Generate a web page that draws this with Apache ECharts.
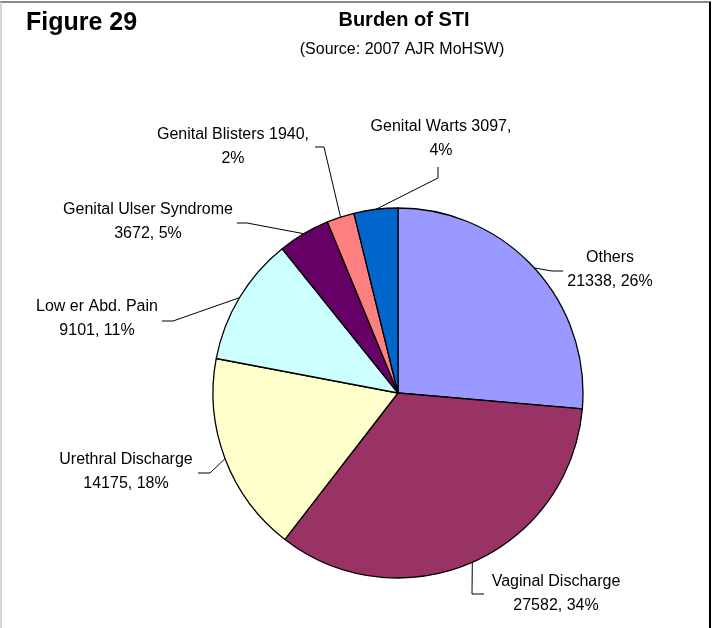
<!DOCTYPE html>
<html>
<head>
<meta charset="utf-8">
<script src="https://cdn.jsdelivr.net/npm/echarts@6/dist/echarts.min.js"></script>
<style>
  html, body { margin: 0; padding: 0; background: #fff; }
  #chart { width: 713px; height: 628px; }
</style>
</head>
<body>
<div id="chart"></div>
<script>
// --- data ---
const categories = ['Others', 'Vaginal Discharge', 'Urethral Discharge', 'Low er Abd. Pain',
  'Genital Ulser Syndrome', 'Genital Blisters', 'Genital Warts'];
const cases = [21338, 27582, 14175, 9101, 3672, 1940, 3097];
// labels where the count sits on the name line
const inlineCount = ['Genital Blisters', 'Genital Warts'];

const sliceColors = ['#9999FF', '#993366', '#FFFFCC', '#CCFFFF', '#660066', '#FF8080', '#0066CC'];

// label block centres and leader line bends (x, y in px)
const labelSpots = [
  { x: 610, y: 270, line: [[552, 271], [563, 271]] },
  { x: 556, y: 594, line: [[472, 594], [484, 594]] },
  { x: 126, y: 472, line: [[210, 473], [198, 473]] },
  { x: 97, y: 319, line: [[173, 321], [162, 321]] },
  { x: 148, y: 222, line: [[247, 223], [237, 223]] },
  { x: 233, y: 147, line: [[324, 147], [315, 147]] },
  { x: 441, y: 139, line: [[438, 178], [438, 167]] }
];

const chart = echarts.init(document.getElementById('chart'));

const pieData = categories.map((name, i) => ({
  name: name,
  value: cases[i],
  itemStyle: { color: sliceColors[i] }
}));

chart.setOption({
  animation: false,
  textStyle: { fontFamily: 'Liberation Sans' },
  title: [
    {
      text: 'Figure 29',
      left: 21, top: 6,
      textStyle: { fontSize: 25, fontWeight: 'bold', color: '#000', fontFamily: 'Liberation Sans' }
    },
    {
      text: 'Burden of STI',
      left: 399, top: 5, textAlign: 'center',
      textStyle: { fontSize: 20, fontWeight: 'bold', color: '#000', fontFamily: 'Liberation Sans' }
    },
    {
      text: '(Source: 2007 AJR MoHSW)',
      left: 397, top: 37, textAlign: 'center',
      textStyle: { fontSize: 16, fontWeight: 'normal', color: '#000', fontFamily: 'Liberation Sans' }
    }
  ],
  graphic: [
    { type: 'line', shape: { x1: 0, y1: 2, x2: 711, y2: 2 }, style: { stroke: '#8a8a8a', lineWidth: 2 } },
    { type: 'line', shape: { x1: 1, y1: 2, x2: 1, y2: 628 }, style: { stroke: '#c8c8c8', lineWidth: 1.5 } },
    { type: 'line', shape: { x1: 710, y1: 2, x2: 710, y2: 628 }, style: { stroke: '#000', lineWidth: 2 } }
  ],
  series: [
    {
      type: 'pie',
      center: [398, 393],
      radius: 185,
      startAngle: 90,
      clockwise: true,
      percentPrecision: 0,
      silent: true,
      itemStyle: { borderColor: '#000', borderWidth: 1.3 },
      label: {
        show: true,
        color: '#000',
        fontSize: 16,
        lineHeight: 24,
        align: 'center',
        fontFamily: 'Liberation Sans',
        formatter: function (p) {
          if (inlineCount.indexOf(p.name) >= 0) {
            return p.name + ' ' + p.value + ',\n' + p.percent + '%';
          }
          return p.name + '\n' + p.value + ', ' + p.percent + '%';
        }
      },
      labelLine: {
        show: true,
        length: 10,
        length2: 10,
        lineStyle: { color: '#000', width: 1 }
      },
      labelLayout: function (params) {
        const spot = labelSpots[params.dataIndex];
        const edge = params.labelLinePoints && params.labelLinePoints[0];
        return {
          x: spot.x,
          y: spot.y,
          align: 'center',
          verticalAlign: 'middle',
          labelLinePoints: [edge || spot.line[0], spot.line[0], spot.line[1]]
        };
      },
      data: pieData
    }
  ]
});
</script>
</body>
</html>
